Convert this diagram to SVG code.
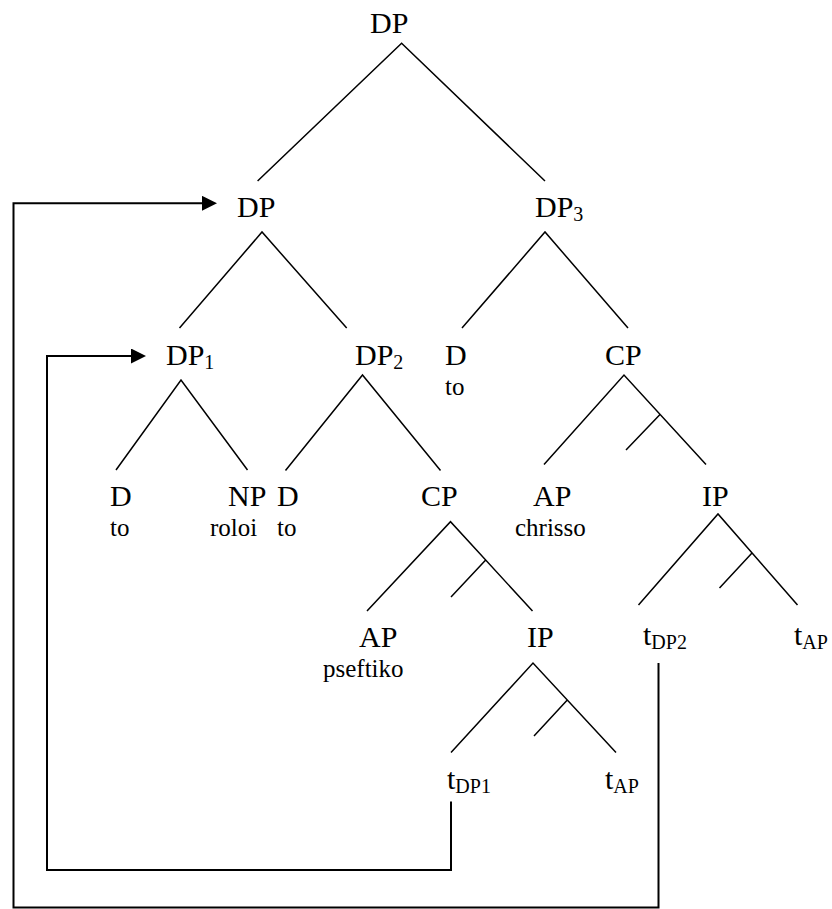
<svg xmlns="http://www.w3.org/2000/svg" width="832" height="909" viewBox="0 0 832 909">
<style>
.nodes text{font-family:"Liberation Serif","Times New Roman",serif;fill:#000}
.lab{font-size:30px;font-family:"Liberation Serif","Times New Roman",serif}
.lex{font-size:25px;font-family:"Liberation Serif","Times New Roman",serif}
.sub{font-size:20px}
.edge{stroke:#000;stroke-width:1.5;fill:none;stroke-linecap:butt}
.conn{stroke:#000;stroke-width:2;fill:none}
</style>
<defs>
<marker id="ah" markerUnits="userSpaceOnUse" markerWidth="15" markerHeight="15" refX="3" refY="7.5" orient="auto">
<path d="M0,0 L15,7.5 L0,15 z" fill="#000"/>
</marker>
</defs>
<rect width="832" height="909" fill="#fff"/>
<g id="edges">
<path class="edge" d="M257.6,181 L401.6,43.3 L545,181"/>
<path class="edge" d="M179.5,328 L262,232 L346.7,328"/>
<path class="edge" d="M462,328 L545,232 L628,328"/>
<path class="edge" d="M116,470 L181,380 L247.5,470"/>
<path class="edge" d="M285.5,470.5 L362.5,375 L440.5,470.5"/>
<path class="edge" d="M544,464.5 L624,375 L706,464.5 M660,414.5 L626,450"/>
<path class="edge" d="M367,611 L450.5,521.7 L532.5,611 M485.7,560 L451,597"/>
<path class="edge" d="M638.5,605 L718,514 L797.5,605 M752,553 L719.5,588"/>
<path class="edge" d="M451,752.5 L533,663 L616,752.5 M567.3,700 L534,736"/>
</g>
<g id="connectors">
<path class="conn" d="M658.5,663 V907.5 H13.5 V203.3 H205" marker-end="url(#ah)"/>
<path class="conn" d="M451,801.5 V870 H47 V356 H134" marker-end="url(#ah)"/>
</g>
<g class="nodes" font-family="'Liberation Serif', 'Times New Roman', serif">
<g id="n-dp-top"><text class="lab" x="370" y="33">DP</text></g>
<g id="n-dp"><text class="lab" x="237" y="217">DP</text></g>
<g id="n-dp3"><text class="lab" x="535" y="217">DP<tspan class="sub" dy="4">3</tspan></text></g>
<g id="n-dp1"><text class="lab" x="166" y="365">DP<tspan class="sub" dy="4">1</tspan></text></g>
<g id="n-dp2"><text class="lab" x="355" y="365">DP<tspan class="sub" dy="4">2</tspan></text></g>
<g id="n-d3"><text class="lab" x="445" y="365">D</text><text class="lex" x="445" y="395">to</text></g>
<g id="n-cp1"><text class="lab" x="605" y="365">CP</text></g>
<g id="n-d1"><text class="lab" x="110" y="506">D</text><text class="lex" x="110" y="536">to</text></g>
<g id="n-np"><text class="lab" x="228" y="506">NP</text><text class="lex" x="210" y="536">roloi</text></g>
<g id="n-d2"><text class="lab" x="277" y="506">D</text><text class="lex" x="277" y="536">to</text></g>
<g id="n-cp2"><text class="lab" x="421" y="506">CP</text></g>
<g id="n-ap1"><text class="lab" x="533" y="506">AP</text><text class="lex" x="515" y="536">chrisso</text></g>
<g id="n-ip1"><text class="lab" x="702" y="506">IP</text></g>
<g id="n-ap2"><text class="lab" x="359" y="647">AP</text><text class="lex" x="323" y="677">pseftiko</text></g>
<g id="n-ip2"><text class="lab" x="527" y="647">IP</text></g>
<g id="n-tdp2"><text class="lab" x="643" y="645">t<tspan class="sub" dy="4">DP2</tspan></text></g>
<g id="n-tap1"><text class="lab" x="794" y="645">t<tspan class="sub" dy="4">AP</tspan></text></g>
<g id="n-tdp1"><text class="lab" x="447" y="789">t<tspan class="sub" dy="4">DP1</tspan></text></g>
<g id="n-tap2"><text class="lab" x="605" y="789">t<tspan class="sub" dy="4">AP</tspan></text></g>
</g>
</svg>
